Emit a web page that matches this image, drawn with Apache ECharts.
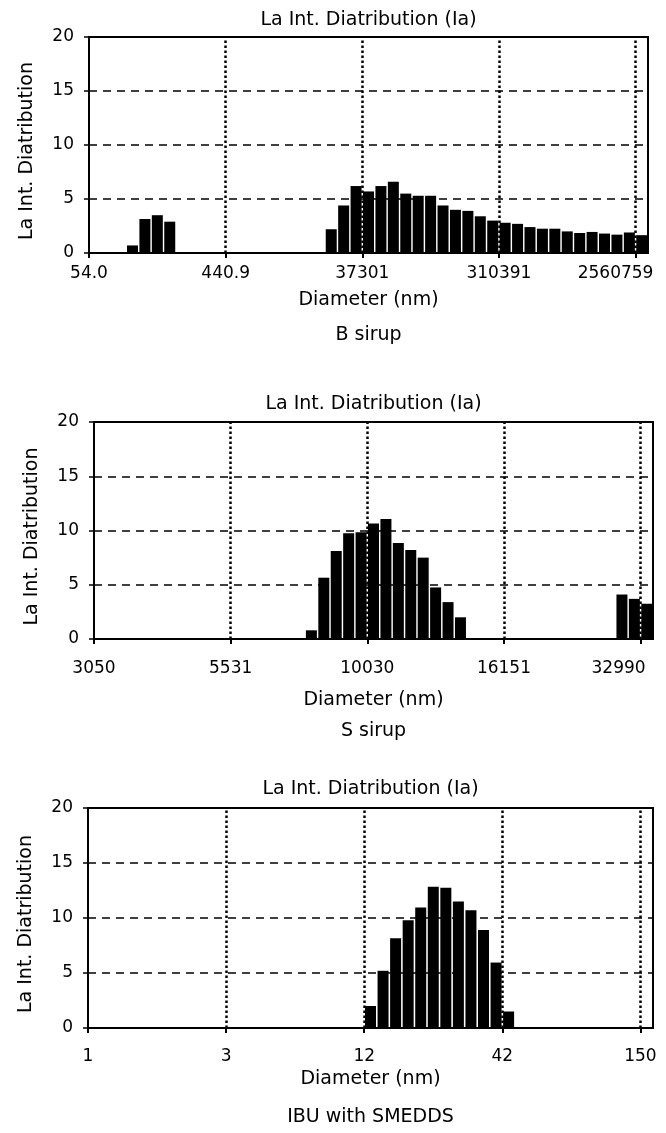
<!DOCTYPE html>
<html>
<head>
<meta charset="utf-8">
<script src="https://cdn.jsdelivr.net/npm/echarts@6/dist/echarts.min.js"></script>
<style>
  html, body { margin: 0; padding: 0; background: #fff; }
  #main { width: 666px; height: 1133px; }
</style>
</head>
<body>
<div id="main"></div>
<script>
// 45 size bins per panel, tick label every 11 bins
var binCount = 45;
var tickStep = 11;

var bSirupTicks = ['54.0', '440.9', '37301', '310391', '2560759'];
var sSirupTicks = ['3050', '5531', '10030', '16151', '32990'];
var ibuTicks = ['1', '3', '12', '42', '150'];

var bSirup = [0, 0, 0, 0.7, 3.15, 3.5, 2.9,
  0, 0, 0, 0, 0, 0, 0, 0, 0, 0, 0, 0,
  2.2, 4.4, 6.2, 5.7, 6.2, 6.6, 5.5, 5.3, 5.3, 4.4, 4.0, 3.9, 3.4,
  3.0, 2.8, 2.7, 2.4, 2.25, 2.25, 2.0, 1.85, 1.95, 1.8, 1.7, 1.9, 1.65];

var sSirup = [0, 0, 0, 0, 0, 0, 0, 0, 0, 0, 0, 0, 0, 0, 0, 0, 0,
  0.8, 5.65, 8.1, 9.75, 9.85, 10.65, 11.05, 8.85, 8.2, 7.5, 4.75, 3.4, 2.0,
  0, 0, 0, 0, 0, 0, 0, 0, 0, 0, 0, 0,
  4.1, 3.7, 3.25];

var ibuSmedds = [0, 0, 0, 0, 0, 0, 0, 0, 0, 0, 0, 0, 0, 0, 0, 0, 0, 0, 0, 0, 0, 0,
  2.0, 5.2, 8.15, 9.8, 10.95, 12.85, 12.75, 11.5, 10.7, 8.9, 5.95, 1.5,
  0, 0, 0, 0, 0, 0, 0, 0, 0, 0, 0];

var chartTitle = 'La Int. Diatribution (Ia)';
var yName = 'La Int. Diatribution';
var xName = 'Diameter (nm)';

var FONT = '"DejaVu Sans", "Liberation Sans", Arial, sans-serif';

var panels = [
  { ticks: bSirupTicks, values: bSirup, caption: 'B sirup',
    grid: { left: 89, top: 37, width: 559, height: 216 },
    titleY: 20, captionY: 335, labelMargin: 12, nameGap: 38, lastPad: 40 },
  { ticks: sSirupTicks, values: sSirup, caption: 'S sirup',
    grid: { left: 94, top: 422, width: 559, height: 217 },
    titleY: 404, captionY: 731, labelMargin: 21, nameGap: 52, lastPad: 44 },
  { ticks: ibuTicks, values: ibuSmedds, caption: 'IBU with SMEDDS',
    grid: { left: 88, top: 808, width: 565, height: 220 },
    titleY: 789, captionY: 1117, labelMargin: 20, nameGap: 42, lastPad: 0 }
];

var chart = echarts.init(document.getElementById('main'));

var grids = [], xAxes = [], yAxes = [], series = [], graphics = [];

panels.forEach(function (p, k) {
  var g = p.grid;
  grids.push({
    left: g.left, top: g.top, width: g.width, height: g.height,
    show: true, borderColor: '#000', borderWidth: 2, backgroundColor: 'transparent'
  });

  xAxes.push({
    gridIndex: k,
    type: 'value',
    min: 0,
    max: binCount,
    interval: tickStep,
    name: xName,
    nameLocation: 'middle',
    nameGap: p.nameGap,
    nameTextStyle: { color: '#000', fontSize: 19, fontFamily: FONT },
    axisLine: { show: true, onZero: false, lineStyle: { color: '#000', width: 2 } },
    axisTick: { show: true, length: 5, lineStyle: { color: '#000', width: 2 } },
    axisLabel: {
      color: '#000', fontSize: 17, fontFamily: FONT, margin: p.labelMargin,
      showMaxLabel: false,
      formatter: function (v) {
        if (v % tickStep !== 0) return '';
        var i = v / tickStep;
        var t = p.ticks[i];
        if (t === undefined) return '';
        if (i === p.ticks.length - 1 && p.lastPad) return '{last|' + t + '}';
        return t;
      },
      rich: { last: { color: '#000', fontSize: 17, fontFamily: FONT, padding: [0, p.lastPad, 0, 0] } }
    },
    splitLine: { show: false }
  });

  yAxes.push({
    gridIndex: k,
    type: 'value',
    min: 0,
    max: 20,
    interval: 5,
    name: yName,
    nameLocation: 'middle',
    nameGap: 52,
    nameTextStyle: { color: '#000', fontSize: 19, fontFamily: FONT, padding: [0, 12, 0, 0] },
    axisLine: { show: true, lineStyle: { color: '#000', width: 2 } },
    axisTick: { show: true, length: 5, lineStyle: { color: '#000', width: 1.5 } },
    axisLabel: { color: '#000', fontSize: 17, fontFamily: FONT, margin: 15 },
    splitLine: { show: true, lineStyle: { color: '#000', width: 1.5, type: [8, 6] } }
  });

  // dotted verticals at the labelled ticks (skip the first, it is the y axis)
  var vLines = p.ticks.slice(1).map(function (t, i) { return { xAxis: (i + 1) * tickStep }; });

  series.push({
    type: 'bar',
    xAxisIndex: k,
    yAxisIndex: k,
    barWidth: 11,
    itemStyle: { color: '#000' },
    silent: true,
    data: p.values.map(function (v, i) { return [i + 0.5, v]; }),
    markLine: {
      silent: true,
      symbol: 'none',
      label: { show: false },
      lineStyle: { color: '#000', width: 2.5, type: [2.5, 2.5] },
      data: vLines
    }
  });

  var cx = g.left + g.width / 2;
  graphics.push({
    type: 'text', x: cx, y: p.titleY,
    style: { text: chartTitle, fill: '#000', font: '19px ' + FONT,
      align: 'center', verticalAlign: 'middle', textAlign: 'center', textVerticalAlign: 'middle' }
  });
  graphics.push({
    type: 'text', x: cx, y: p.captionY,
    style: { text: p.caption, fill: '#000', font: '19px ' + FONT,
      align: 'center', verticalAlign: 'middle', textAlign: 'center', textVerticalAlign: 'middle' }
  });
});

var option = {
  backgroundColor: '#fff',
  animation: false,
  grid: grids,
  xAxis: xAxes,
  yAxis: yAxes,
  series: series,
  graphic: graphics
};

option && chart.setOption(option);
</script>
</body>
</html>
